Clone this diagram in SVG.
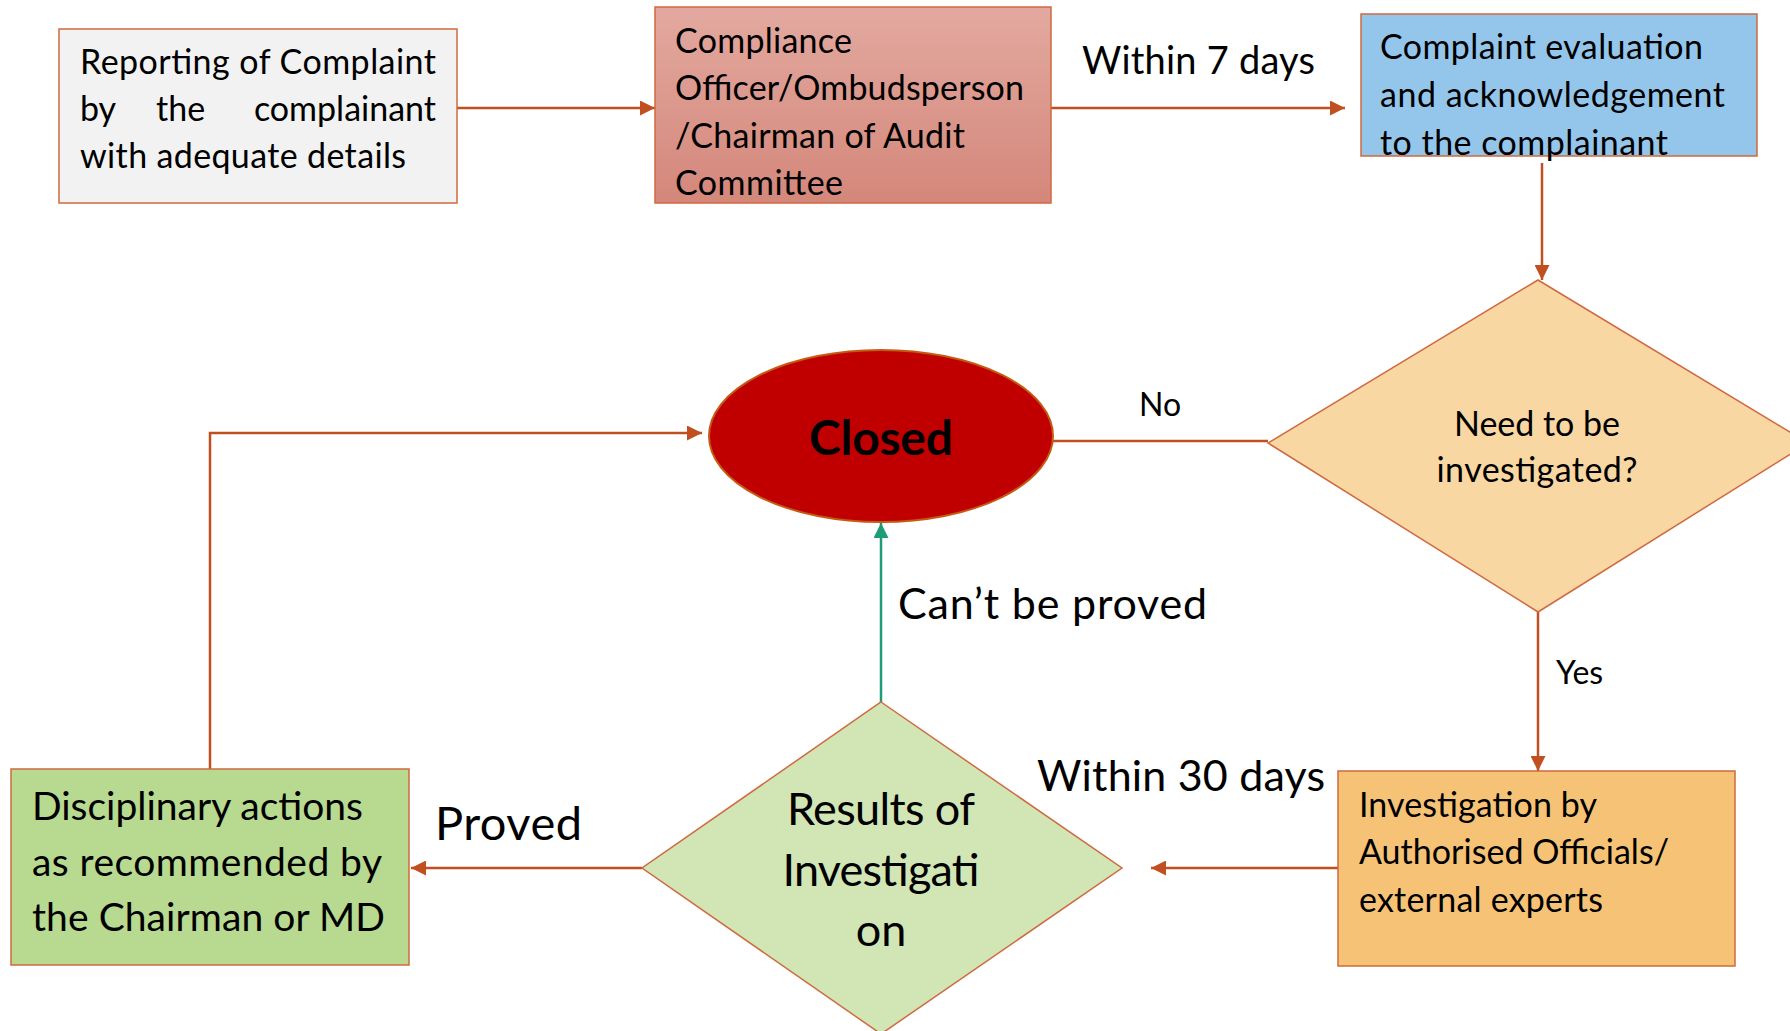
<svg xmlns="http://www.w3.org/2000/svg" width="1790" height="1031" viewBox="0 0 1790 1031">
<defs>
<linearGradient id="gRed" x1="0" y1="0" x2="0" y2="1">
<stop offset="0" stop-color="#E3A9A0"/>
<stop offset="1" stop-color="#D4877A"/>
</linearGradient>
<marker id="ah" viewBox="0 0 15 15" refX="15" refY="7.5" markerWidth="15" markerHeight="15" markerUnits="userSpaceOnUse" orient="auto">
<path d="M0,0 L15,7.5 L0,15 z" fill="#C0501F"/>
</marker>
<marker id="ahg" viewBox="0 0 15 15" refX="15" refY="7.5" markerWidth="15" markerHeight="15" markerUnits="userSpaceOnUse" orient="auto">
<path d="M0,0 L15,7.5 L0,15 z" fill="#1E9C78"/>
</marker>
</defs>
<style>
text { font-family: Lato, "Liberation Sans", sans-serif; fill: #000; }
.bx { stroke: #D0693F; stroke-width: 1.5; }
.t34 { font-size: 34px; }
.t38 { font-size: 38px; }
.t43 { font-size: 43px; }
.t45 { font-size: 45px; }
.t32 { font-size: 32px; }
.c { stroke: #C0501F; stroke-width: 2.5; fill: none; }
.cg { stroke: #1E9C78; stroke-width: 2.5; fill: none; }
</style>
<rect width="1790" height="1031" fill="#ffffff"/>

<g id="connectors">
<path class="c" d="M457,108 H655" marker-end="url(#ah)"/>
<path class="c" d="M1051,108 H1345" marker-end="url(#ah)"/>
<path class="c" d="M1542,163 V280" marker-end="url(#ah)"/>
<path class="c" d="M1268,441 H1053"/>
<path class="c" d="M1538,612 V771" marker-end="url(#ah)"/>
<path class="c" d="M1338,868 H1151" marker-end="url(#ah)"/>
<path class="cg" d="M881,702 V523" marker-end="url(#ahg)"/>
<path class="c" d="M642,868 H411" marker-end="url(#ah)"/>
<path class="c" d="M210,769 V433 H702" marker-end="url(#ah)"/>
</g>

<g id="node-reporting">
<rect class="bx" x="59" y="29" width="398" height="174" fill="#F2F2F2"/>
<text class="t34" x="80" y="74" textLength="356">Reporting of Complaint</text>
<text class="t34" x="80" y="121">by</text>
<text class="t34" x="156" y="121">the</text>
<text class="t34" x="436" y="121" text-anchor="end">complainant</text>
<text class="t34" x="80" y="168" textLength="326">with adequate details</text>
</g>

<g id="node-compliance">
<rect class="bx" x="655" y="7" width="396" height="196" fill="url(#gRed)"/>
<text class="t34" x="675" y="53" textLength="177">Compliance</text>
<text class="t34" x="675" y="100" textLength="349">Officer/Ombudsperson</text>
<text class="t34" x="675" y="148" textLength="290">/Chairman of Audit</text>
<text class="t34" x="675" y="195" textLength="168">Committee</text>
</g>

<g id="node-evaluation">
<rect class="bx" x="1361" y="14" width="396" height="142" fill="#94C6EC"/>
<text class="t34" x="1380" y="59" textLength="323">Complaint evaluation</text>
<text class="t34" x="1380" y="107" textLength="345">and acknowledgement</text>
<text class="t34" x="1380" y="155" textLength="288">to the complainant</text>
</g>

<g id="node-need">
<polygon class="bx" points="1538,280 1808,443 1538,612 1268,443" fill="#F9D7A3"/>
<text class="t34" x="1537" y="436" text-anchor="middle" textLength="166">Need to be</text>
<text class="t34" x="1537" y="482" text-anchor="middle" textLength="201">investigated?</text>
</g>

<g id="node-closed">
<ellipse cx="881" cy="436" rx="172" ry="86" fill="#C00000" stroke="#C55A11" stroke-width="2"/>
<text x="881" y="455" text-anchor="middle" font-size="48" font-weight="bold" textLength="144">Closed</text>
</g>

<g id="node-investigation">
<rect class="bx" x="1338" y="771" width="397" height="195" fill="#F6C376"/>
<text class="t34" x="1359" y="817" textLength="238">Investigation by</text>
<text class="t34" x="1359" y="864" textLength="310">Authorised Officials/</text>
<text class="t34" x="1359" y="912" textLength="244">external experts</text>
</g>

<g id="node-results">
<polygon class="bx" points="881,702 1122,868 881,1034 642,868" fill="#D1E5B5"/>
<text class="t45" x="881" y="825" text-anchor="middle" textLength="188">Results of</text>
<text class="t45" x="881" y="886" text-anchor="middle" textLength="197">Investigati</text>
<text class="t45" x="881" y="946" text-anchor="middle">on</text>
</g>

<g id="node-disciplinary">
<rect class="bx" x="11" y="769" width="398" height="196" fill="#B8D990"/>
<text x="32" y="820" font-size="39" textLength="331">Disciplinary actions</text>
<text x="32" y="876" font-size="39" textLength="350">as recommended by</text>
<text x="32" y="931" font-size="39" textLength="353">the Chairman or MD</text>
</g>

<g id="labels">
<text class="t38" x="1082" y="74" textLength="233">Within 7 days</text>
<text class="t32" x="1139" y="416">No</text>
<text class="t32" x="1556" y="684">Yes</text>
<text class="t43" x="898" y="619" textLength="309">Can’t be proved</text>
<text class="t43" x="1037" y="791" textLength="288">Within 30 days</text>
<text x="435" y="840" font-size="47" textLength="147">Proved</text>
</g>
</svg>
